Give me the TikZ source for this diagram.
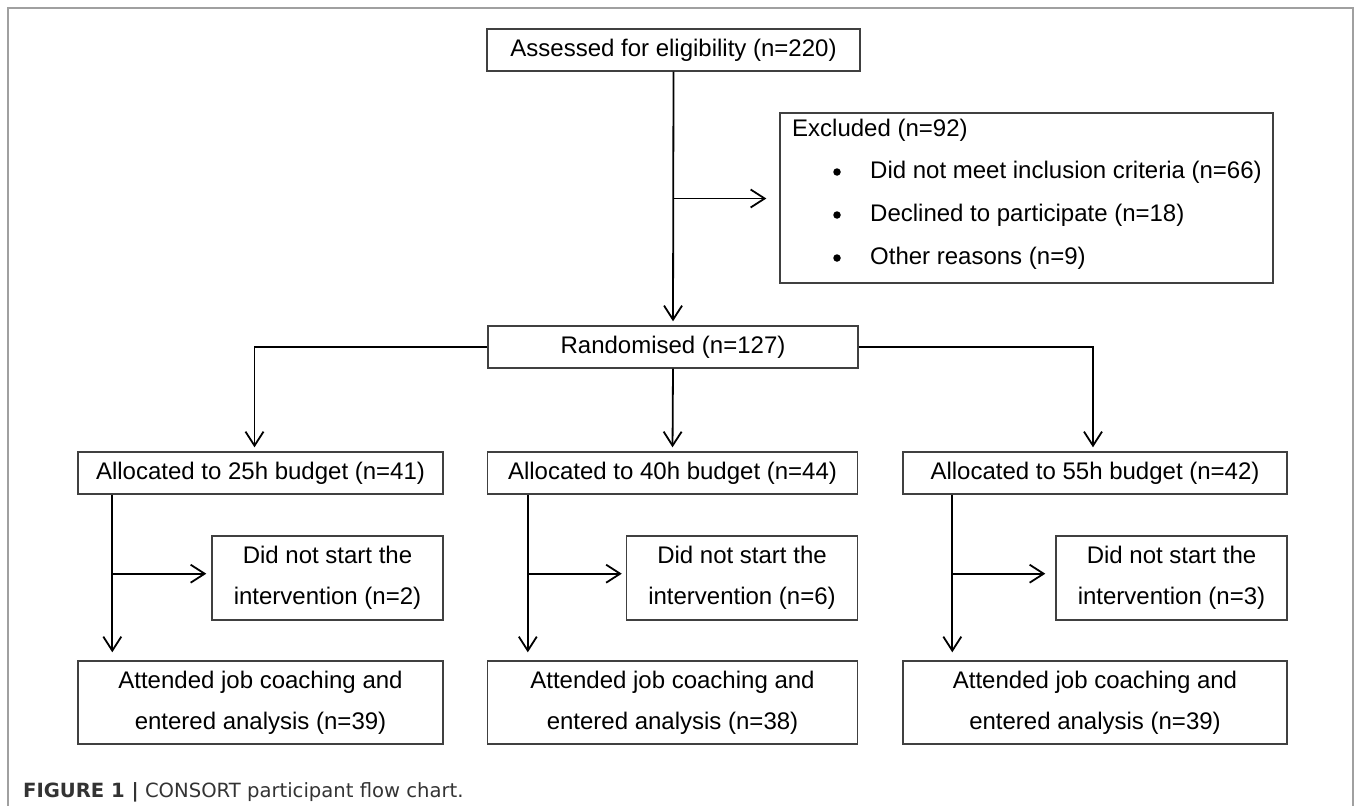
\documentclass[tikz,border=0pt]{standalone}
\usepackage{fontspec}
\setmainfont{Liberation Sans}
\newfontfamily\capfont{DejaVu Sans}
\usetikzlibrary{arrows.meta,calc}
\definecolor{boxc}{HTML}{404040}
\definecolor{framec}{HTML}{A0A0A0}
\definecolor{capc}{HTML}{333333}
\begin{document}
\begin{tikzpicture}[x=1pt,y=-1pt,
  box/.style={draw=boxc,line width=1.4pt,inner sep=0pt,align=center,font=\fontsize{24}{41}\selectfont,text=black},
  txt/.style={inner sep=0pt,anchor=west,font=\fontsize{24}{29}\selectfont,text=black},
  bul/.style={circle,fill=black,inner sep=0pt,minimum size=7.5pt},
  conn/.style={line width=1.8pt,draw=black},
  arr/.style={conn,-{Straight Barb[length=14pt,width=18pt,line width=1.8pt]}}
]
\useasboundingbox (0,0) rectangle (1355,806);
\draw[framec,line width=1.5pt] (8,806)--(8,8)--(1353,8)--(1353,806);

% boxes
\node[box,minimum width=493pt,minimum height=170pt] (excl) at (1026.5,198) {};
\node[box,minimum width=373pt,minimum height=42pt] (assess) at (673.5,50) {Assessed for eligibility (n=220)};
\node[txt] (exclt) at (792,130) {Excluded (n=92)};
\node[bul] (b1) at (837,172) {};
\node[bul] (b2) at (837,215) {};
\node[bul] (b3) at (837,258) {};
\node[txt] (e1) at (870,172) {Did not meet inclusion criteria (n=66)};
\node[txt] (e2) at (870,215) {Declined to participate (n=18)};
\node[txt] (e3) at (870,258) {Other reasons (n=9)};

\node[box,minimum width=370pt,minimum height=42pt] (rand) at (673,347) {Randomised (n=127)};

\node[box,minimum width=365pt,minimum height=42pt] (alloc1) at (260.5,473) {Allocated to 25h budget (n=41)};
\node[box,minimum width=370pt,minimum height=42pt] (alloc2) at (672.5,473) {Allocated to 40h budget (n=44)};
\node[box,minimum width=384pt,minimum height=42pt] (alloc3) at (1095,473) {Allocated to 55h budget (n=42)};

\node[box,minimum width=231pt,minimum height=84pt] (dns1) at (327.5,578) {Did not start the\\intervention (n=2)};
\node[box,minimum width=231pt,minimum height=84pt] (dns2) at (742,578) {Did not start the\\intervention (n=6)};
\node[box,minimum width=231pt,minimum height=84pt] (dns3) at (1171.5,578) {Did not start the\\intervention (n=3)};

\node[box,minimum width=365pt,minimum height=83pt] (att1) at (260.5,702.5) {Attended job coaching and\\entered analysis (n=39)};
\node[box,minimum width=370pt,minimum height=83pt] (att2) at (672.5,702.5) {Attended job coaching and\\entered analysis (n=38)};
\node[box,minimum width=384pt,minimum height=83pt] (att3) at (1095,702.5) {Attended job coaching and\\entered analysis (n=39)};

% connectors
\draw[arr,shorten >=4pt] (assess.south) -- (rand.north);
\coordinate (j0) at ($(assess.south)!0.5!(rand.north)$);
\draw[arr,shorten >=13pt] (j0) -- (j0 -| excl.west);
\coordinate (a1) at ($(alloc1.north)+(-6,0)$);
\draw[arr,shorten >=4pt] (rand.west) -| (a1);
\draw[arr,shorten >=4pt] (rand.south) -- (alloc2.north);
\coordinate (a3) at ($(alloc3.north)+(-2,0)$);
\draw[arr,shorten >=4pt] (rand.east) -| (a3);

\coordinate (v1) at ($(alloc1.south west)+(35,0)$);
\coordinate (w1) at ($(att1.north west)+(35,0)$);
\coordinate (h1) at ($(alloc1.south west)+(35,79)$);
\draw[arr,shorten >=8pt] (v1) -- (w1);
\draw[arr,shorten >=5pt] (h1) -- (h1 -| dns1.west);

\coordinate (v2) at ($(alloc2.south west)+(41,0)$);
\coordinate (w2) at ($(att2.north west)+(41,0)$);
\coordinate (h2) at ($(alloc2.south west)+(41,79)$);
\draw[arr,shorten >=8pt] (v2) -- (w2);
\draw[arr,shorten >=4pt] (h2) -- (h2 -| dns2.west);

\coordinate (v3) at ($(alloc3.south west)+(50,0)$);
\coordinate (w3) at ($(att3.north west)+(50,0)$);
\coordinate (h3) at ($(alloc3.south west)+(50,79)$);
\draw[arr,shorten >=8pt] (v3) -- (w3);
\draw[arr,shorten >=10pt] (h3) -- (h3 -| dns3.west);

% caption
\node[inner sep=0pt,anchor=west,text=capc,font=\capfont\fontsize{19.6}{23}\selectfont] (cap) at (23,792) {\textbf{FIGURE 1 |} CONSORT participant flow chart.};
\end{tikzpicture}
\end{document}
